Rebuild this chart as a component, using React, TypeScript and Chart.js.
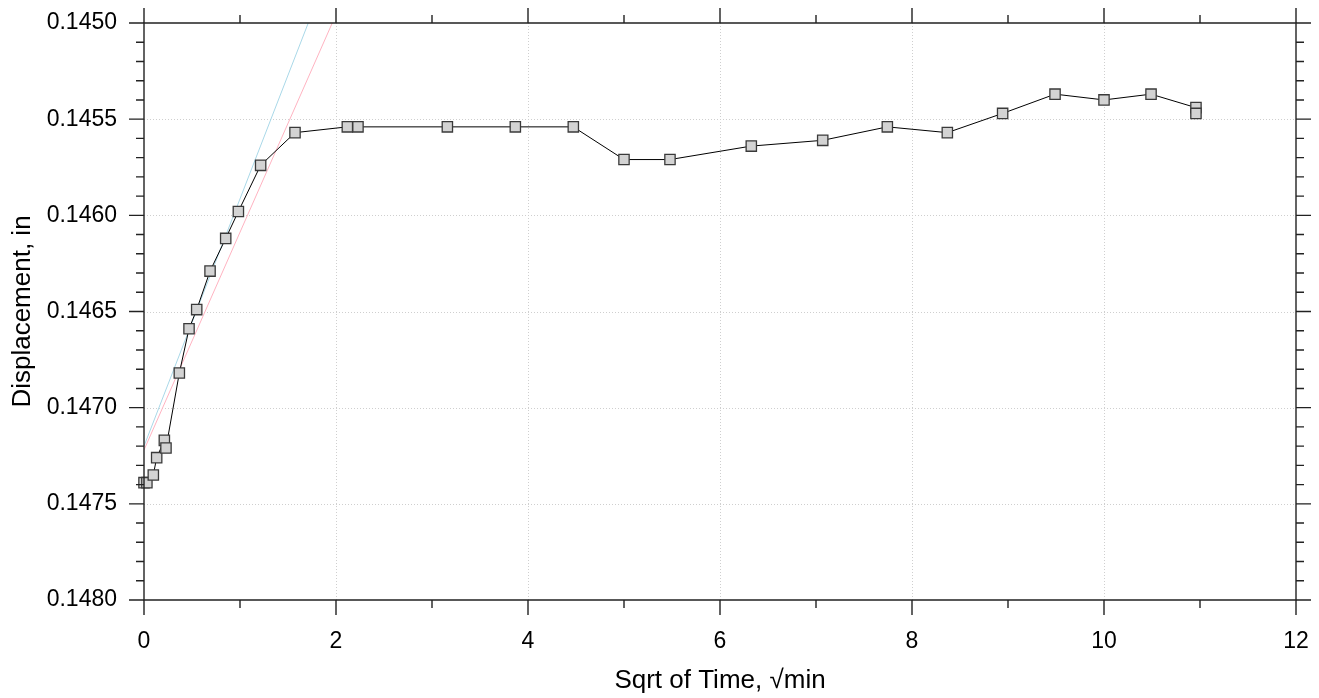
import React, { useEffect, useRef } from 'react';
import { Chart, registerables } from 'chart.js';

Chart.register(...registerables);

// Sqrt of time (√min) and displacement (in) readings
const sqrtTime = [
  0, 0.03, 0.097, 0.132, 0.212, 0.229, 0.368, 0.469, 0.549, 0.688, 0.851, 0.983,
  1.215, 1.573, 2.118, 2.229, 3.16, 3.868, 4.472, 5.0, 5.479, 6.326, 7.07, 7.743,
  8.368, 8.944, 9.49, 10.0, 10.49, 10.958, 10.958,
];
const displacement = [
  0.14739, 0.14739, 0.14735, 0.14726, 0.14717, 0.14721, 0.14682, 0.14659, 0.14649,
  0.14629, 0.14612, 0.14598, 0.14574, 0.14557, 0.14554, 0.14554, 0.14554, 0.14554,
  0.14554, 0.14571, 0.14571, 0.14564, 0.14561, 0.14554, 0.14557, 0.14547, 0.14537,
  0.1454, 0.14537, 0.14544, 0.14547,
];

// Fit lines (blue and pink)
const blueFitX = [0, 1.711];
const blueFitY = [0.1472, 0.145];
const pinkFitX = [0, 1.961];
const pinkFitY = [0.14722, 0.145];

// Axes
const xMin = 0;
const xMax = 12;
const xMajorStep = 2;
const xMinorStep = 1;
const yMin = 0.145;
const yMax = 0.148;
const yMajorStep = 0.0005;
const yMinorStep = 0.0001;

const FONT = "'Liberation Sans', Arial, sans-serif";

const toPoints = (xs: number[], ys: number[]) => xs.map((x, i) => ({ x, y: ys[i] }));

export default function App() {
  const ref = useRef<HTMLCanvasElement | null>(null);

  useEffect(() => {
    if (!ref.current) return;

    const framePlugin = {
      id: 'framePlugin',
      beforeDatasetsDraw(chart: any) {
        const { ctx, chartArea } = chart;
        const xs = chart.scales.x;
        const ys = chart.scales.y;
        ctx.save();
        ctx.strokeStyle = '#cfcfcf';
        ctx.lineWidth = 1;
        ctx.setLineDash([1, 2]);
        for (let v = xMin + xMajorStep; v < xMax - 1e-9; v += xMajorStep) {
          const px = Math.round(xs.getPixelForValue(v)) + 0.5;
          ctx.beginPath();
          ctx.moveTo(px, chartArea.top);
          ctx.lineTo(px, chartArea.bottom);
          ctx.stroke();
        }
        const nY = Math.round((yMax - yMin) / yMajorStep);
        for (let i = 1; i < nY; i++) {
          const py = Math.round(ys.getPixelForValue(yMin + i * yMajorStep)) + 0.5;
          ctx.beginPath();
          ctx.moveTo(chartArea.left, py);
          ctx.lineTo(chartArea.right, py);
          ctx.stroke();
        }
        ctx.restore();
      },
      afterDatasetsDraw(chart: any) {
        const { ctx, chartArea } = chart;
        const { left, right, top, bottom } = chartArea;
        const xs = chart.scales.x;
        const ys = chart.scales.y;
        const major = 15;
        const minor = 8;
        ctx.save();
        ctx.strokeStyle = '#222';
        ctx.lineWidth = 1.4;
        ctx.setLineDash([]);
        // frame
        ctx.beginPath();
        ctx.moveTo(left, top);
        ctx.lineTo(right, top);
        ctx.lineTo(right, bottom);
        ctx.lineTo(left, bottom);
        ctx.closePath();
        ctx.stroke();
        // x ticks (bottom and top)
        const nX = Math.round((xMax - xMin) / xMinorStep);
        const perX = Math.round(xMajorStep / xMinorStep);
        for (let i = 0; i <= nX; i++) {
          const v = xMin + i * xMinorStep;
          const px = xs.getPixelForValue(v);
          const len = i % perX === 0 ? major : minor;
          ctx.beginPath();
          ctx.moveTo(px, bottom);
          ctx.lineTo(px, bottom + len);
          ctx.moveTo(px, top);
          ctx.lineTo(px, top - len);
          ctx.stroke();
        }
        // y ticks (left and right)
        const nYm = Math.round((yMax - yMin) / yMinorStep);
        const perY = Math.round(yMajorStep / yMinorStep);
        for (let i = 0; i <= nYm; i++) {
          const v = yMin + i * yMinorStep;
          const py = ys.getPixelForValue(v);
          const len = i % perY === 0 ? major : minor;
          ctx.beginPath();
          ctx.moveTo(left, py);
          ctx.lineTo(left - len, py);
          ctx.moveTo(right, py);
          ctx.lineTo(right + len, py);
          ctx.stroke();
        }
        ctx.restore();
      },
    };

    const chart = new Chart(ref.current, {
      type: 'scatter',
      data: {
        datasets: [
          {
            label: 'Data',
            data: toPoints(sqrtTime, displacement),
            showLine: true,
            borderColor: '#000',
            borderWidth: 1,
            pointStyle: 'rect',
            pointRadius: 7.3,
            pointBackgroundColor: '#d3d3d3',
            pointBorderColor: '#3a3a3a',
            pointBorderWidth: 1.3,
            clip: false,
            order: 0,
          } as any,
          {
            label: 'Fit A',
            data: toPoints(blueFitX, blueFitY),
            showLine: true,
            borderColor: '#a9d8e8',
            borderWidth: 1,
            pointRadius: 0,
            order: 1,
          } as any,
          {
            label: 'Fit B',
            data: toPoints(pinkFitX, pinkFitY),
            showLine: true,
            borderColor: '#ffb3c1',
            borderWidth: 1,
            pointRadius: 0,
            order: 2,
          } as any,
        ],
      },
      options: {
        responsive: true,
        maintainAspectRatio: false,
        animation: false,
        layout: { padding: { top: 23, right: 23, left: 0, bottom: 0 } },
        plugins: {
          legend: { display: false },
          tooltip: { enabled: false },
        },
        scales: {
          x: {
            type: 'linear',
            position: 'bottom',
            min: xMin,
            max: xMax,
            grid: { display: false, drawTicks: false },
            border: { display: false },
            ticks: {
              stepSize: xMajorStep,
              padding: 28,
              maxRotation: 0,
              color: '#000',
              font: { family: FONT, size: 23 },
            },
            title: {
              display: true,
              text: 'Sqrt of Time, √min',
              color: '#000',
              font: { family: FONT, size: 26 },
              padding: { top: 0, bottom: 2 },
            },
            afterFit(s: any) {
              s.height = 98;
              s.paddingLeft = 0;
              s.paddingRight = 0;
            },
          },
          y: {
            type: 'linear',
            position: 'left',
            min: yMin,
            max: yMax,
            reverse: true,
            grid: { display: false, drawTicks: false },
            border: { display: false },
            ticks: {
              stepSize: yMajorStep,
              padding: 27,
              color: '#000',
              font: { family: FONT, size: 23 },
              callback: (v: any) => Number(v).toFixed(4),
            },
            title: {
              display: true,
              text: 'Displacement, in',
              color: '#000',
              font: { family: FONT, size: 26 },
              padding: { top: 7, bottom: 0 },
            },
            afterFit(s: any) {
              s.width = 144;
              s.paddingTop = 0;
              s.paddingBottom = 0;
            },
          },
        },
      } as any,
      plugins: [framePlugin],
    });

    return () => chart.destroy();
  }, []);

  return (
    <div style={{ position: 'absolute', left: 0, top: 0, width: 1319, height: 698 }}>
      <canvas ref={ref} />
    </div>
  );
}
